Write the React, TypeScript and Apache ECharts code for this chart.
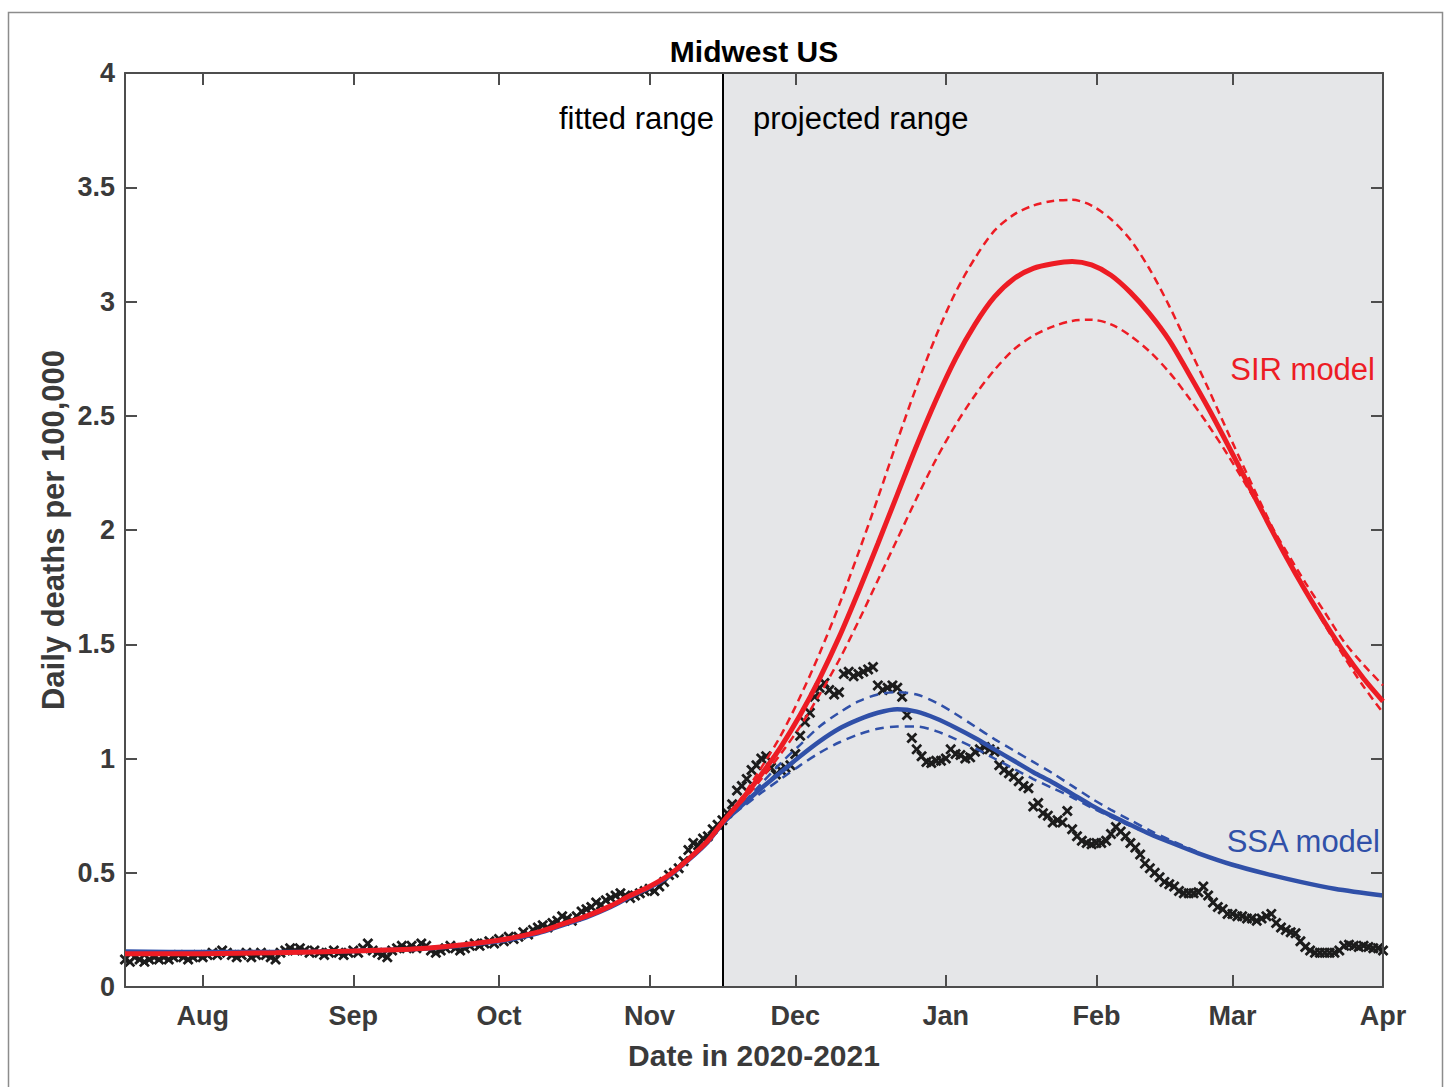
import React, { useEffect, useRef } from 'react';
import * as echarts from 'echarts';

// ---- axis ticks (day 0 = 16 Jul 2020) ----
const monthTickDays = [16, 47, 77, 108, 138, 169, 200, 228, 259];
const monthTickLabels = ['Aug', 'Sep', 'Oct', 'Nov', 'Dec', 'Jan', 'Feb', 'Mar', 'Apr'];
const firstDay = 0;
const lastDay = 259;
const fitEndDay = 123;

// ---- observed daily deaths per 100,000 (one value per day) ----
const obsJul = [0.12, 0.11, 0.13, 0.12, 0.11, 0.12, 0.13, 0.12, 0.13, 0.12, 0.13, 0.14, 0.13, 0.12, 0.13, 0.14];
const obsAug = [0.13, 0.14, 0.15, 0.14, 0.16, 0.15, 0.14, 0.13, 0.14, 0.15, 0.13, 0.14, 0.15, 0.14, 0.13, 0.12, 0.15, 0.16, 0.17, 0.16, 0.17, 0.16, 0.15, 0.16, 0.15, 0.14, 0.15, 0.16, 0.15, 0.14, 0.15];
const obsSep = [0.16, 0.15, 0.17, 0.19, 0.16, 0.15, 0.14, 0.13, 0.16, 0.17, 0.18, 0.17, 0.18, 0.17, 0.19, 0.18, 0.16, 0.15, 0.16, 0.17, 0.18, 0.17, 0.16, 0.17, 0.18, 0.19, 0.18, 0.19, 0.2, 0.19];
const obsOct = [0.21, 0.2, 0.22, 0.21, 0.22, 0.24, 0.23, 0.25, 0.26, 0.27, 0.26, 0.28, 0.29, 0.31, 0.3, 0.29, 0.31, 0.33, 0.34, 0.35, 0.37, 0.36, 0.38, 0.39, 0.4, 0.41, 0.4, 0.39, 0.4, 0.41, 0.42];
const obsNov = [0.43, 0.42, 0.44, 0.46, 0.49, 0.5, 0.52, 0.55, 0.6, 0.63, 0.62, 0.65, 0.66, 0.69, 0.71, 0.73, 0.76, 0.8, 0.86, 0.88, 0.91, 0.95, 0.97, 1.0, 1.01, 0.96, 0.93, 0.95, 0.96, 0.97];
const obsDec = [1.02, 1.1, 1.16, 1.2, 1.27, 1.31, 1.33, 1.3, 1.28, 1.29, 1.37, 1.38, 1.36, 1.37, 1.38, 1.39, 1.4, 1.32, 1.3, 1.31, 1.32, 1.31, 1.27, 1.19, 1.09, 1.04, 1.01, 0.985, 0.98, 0.99, 0.99];
const obsJan = [1.0, 1.04, 1.02, 1.015, 1.0, 1.005, 1.03, 1.04, 1.05, 1.04, 1.03, 0.97, 0.95, 0.935, 0.92, 0.9, 0.88, 0.87, 0.79, 0.805, 0.76, 0.75, 0.72, 0.73, 0.72, 0.77, 0.69, 0.66, 0.64, 0.63, 0.625];
const obsFeb = [0.63, 0.63, 0.64, 0.67, 0.7, 0.68, 0.66, 0.63, 0.61, 0.58, 0.54, 0.52, 0.5, 0.48, 0.46, 0.45, 0.44, 0.42, 0.41, 0.41, 0.41, 0.415, 0.44, 0.4, 0.37, 0.35, 0.34, 0.32];
const obsMar = [0.32, 0.31, 0.31, 0.3, 0.3, 0.29, 0.3, 0.31, 0.32, 0.28, 0.26, 0.25, 0.24, 0.235, 0.2, 0.175, 0.16, 0.15, 0.15, 0.15, 0.15, 0.15, 0.16, 0.18, 0.185, 0.18, 0.175, 0.18, 0.175, 0.17, 0.17];
const obsApr = [0.16];

// ---- fitted range (both models) ----
const fitDays = [0, 16, 31, 47, 62, 77, 85, 90, 95, 100, 104, 108, 112, 116, 120, 123];
const sirFit = [0.145, 0.146, 0.15, 0.158, 0.17, 0.205, 0.24, 0.275, 0.31, 0.355, 0.4, 0.44, 0.49, 0.56, 0.64, 0.72];
const ssaFit = [0.155, 0.153, 0.153, 0.158, 0.168, 0.2, 0.235, 0.27, 0.305, 0.35, 0.395, 0.435, 0.485, 0.555, 0.635, 0.715];

// ---- SIR projection (every 4 days from 16 Nov) ----
const sirDays = [123, 127, 131, 135, 139, 143, 147, 151, 155, 159, 163, 167, 171, 175, 179, 183, 187, 191, 195, 199, 203, 207, 211, 215, 219, 223, 227, 231, 235, 239, 243, 247, 251, 255, 259];
const sirMid = [0.72, 0.82, 0.93, 1.05, 1.19, 1.35, 1.53, 1.73, 1.94, 2.155, 2.37, 2.57, 2.75, 2.9, 3.02, 3.1, 3.145, 3.165, 3.175, 3.16, 3.115, 3.04, 2.945, 2.83, 2.685, 2.535, 2.375, 2.21, 2.045, 1.885, 1.735, 1.595, 1.465, 1.35, 1.25];
const sirHigh = [0.72, 0.83, 0.96, 1.1, 1.27, 1.46, 1.67, 1.9, 2.14, 2.39, 2.63, 2.85, 3.04, 3.19, 3.31, 3.38, 3.42, 3.44, 3.445, 3.42, 3.36, 3.27, 3.14, 2.98, 2.8, 2.62, 2.43, 2.245, 2.065, 1.895, 1.735, 1.585, 1.445, 1.315, 1.2];
const sirLow = [0.72, 0.81, 0.91, 1.02, 1.14, 1.28, 1.43, 1.6, 1.78, 1.96, 2.14, 2.31, 2.46, 2.59, 2.7, 2.79, 2.85, 2.89, 2.915, 2.92, 2.9, 2.85, 2.78, 2.69, 2.58, 2.46, 2.33, 2.19, 2.05, 1.91, 1.77, 1.64, 1.51, 1.41, 1.32];

// ---- SSA projection ----
const ssaDays = [123, 127, 131, 135, 139, 143, 147, 151, 155, 159, 163, 167, 171, 175, 179, 183, 187, 191, 195, 199, 203, 207, 211, 215, 221, 228, 235, 242, 249, 259];
const ssaMid = [0.72, 0.795, 0.87, 0.94, 1.01, 1.075, 1.13, 1.17, 1.2, 1.215, 1.205, 1.175, 1.135, 1.09, 1.04, 0.99, 0.94, 0.895, 0.845, 0.795, 0.75, 0.71, 0.67, 0.635, 0.585, 0.535, 0.495, 0.46, 0.43, 0.4];
const ssaBandDays = [123, 127, 131, 135, 139, 143, 147, 151, 155, 159, 163, 167, 171, 175, 179, 183, 187, 191, 195, 199, 203, 207, 211, 215, 221];
const ssaHigh = [0.72, 0.8, 0.89, 0.98, 1.06, 1.14, 1.2, 1.25, 1.28, 1.29, 1.28, 1.245, 1.195, 1.14, 1.085, 1.035, 0.985, 0.935, 0.88, 0.825, 0.775, 0.73, 0.685, 0.645, 0.59];
const ssaLow = [0.72, 0.785, 0.85, 0.91, 0.97, 1.025, 1.07, 1.105, 1.13, 1.14, 1.14, 1.12, 1.085, 1.045, 1.0, 0.955, 0.91, 0.87, 0.83, 0.785, 0.745, 0.705, 0.67, 0.635, 0.585];

const FONT = '"Liberation Sans", Arial, Helvetica, sans-serif';
const AXIS_COLOR = '#4d4d4d';
const LABEL_COLOR = '#3a3a3a';
const RED = '#ed1c24';
const BLUE = '#3050a8';

const pairs = (xs: number[], ys: number[]) => xs.map((x, i) => [x, ys[i]]);

export default function App() {
  const ref = useRef<HTMLDivElement>(null);

  useEffect(() => {
    if (!ref.current) return;
    const chart = echarts.init(ref.current, undefined, { renderer: 'svg' });

    const observed = [...obsJul, ...obsAug, ...obsSep, ...obsOct, ...obsNov, ...obsDec, ...obsJan, ...obsFeb, ...obsMar, ...obsApr];
    const observedPts = observed.map((v, i) => [firstDay + i, v]);
    const sirSolid = [...pairs(fitDays, sirFit), ...pairs(sirDays.slice(1), sirMid.slice(1))];
    const ssaSolid = [...pairs(fitDays, ssaFit), ...pairs(ssaDays.slice(1), ssaMid.slice(1))];

    const xMarkSymbol = 'path://M0,1.8L1.8,0L5,3.2L8.2,0L10,1.8L6.8,5L10,8.2L8.2,10L5,6.8L1.8,10L0,8.2L3.2,5Z';

    const tickLine = { color: AXIS_COLOR, width: 2 };

    chart.setOption({
      animation: false,
      backgroundColor: '#ffffff',
      grid: { left: 125, right: 65, top: 73, bottom: 100, containLabel: false, outerBoundsMode: 'none' },
      xAxis: [
        {
          type: 'value', min: firstDay, max: lastDay, position: 'bottom', z: 5,
          axisLine: { show: true, onZero: false, lineStyle: tickLine },
          axisTick: { show: true, inside: true, length: 12, customValues: monthTickDays, lineStyle: tickLine },
          axisLabel: {
            show: true, customValues: monthTickDays, margin: 15,
            formatter: (v: number) => monthTickLabels[monthTickDays.indexOf(Math.round(v))] ?? '',
            fontSize: 27, fontWeight: 'bold', color: LABEL_COLOR, fontFamily: FONT,
          },
          splitLine: { show: false },
        },
        {
          type: 'value', min: firstDay, max: lastDay, position: 'top', z: 5,
          axisLine: { show: true, onZero: false, lineStyle: tickLine },
          axisTick: { show: true, inside: true, length: 12, customValues: monthTickDays, lineStyle: tickLine },
          axisLabel: { show: false },
          splitLine: { show: false },
        },
      ],
      yAxis: [
        {
          type: 'value', min: 0, max: 4, interval: 0.5, position: 'left', z: 5,
          axisLine: { show: true, onZero: false, lineStyle: tickLine },
          axisTick: { show: true, inside: true, length: 12, lineStyle: tickLine },
          axisLabel: { show: true, margin: 10, fontSize: 27, fontWeight: 'bold', color: LABEL_COLOR, fontFamily: FONT },
          splitLine: { show: false },
        },
        {
          type: 'value', min: 0, max: 4, interval: 0.5, position: 'right', z: 5,
          axisLine: { show: true, onZero: false, lineStyle: tickLine },
          axisTick: { show: true, inside: true, length: 12, lineStyle: tickLine },
          axisLabel: { show: false },
          splitLine: { show: false },
        },
      ],
      graphic: [
        {
          type: 'rect', silent: true, z: -10,
          shape: { x: 8.5, y: 12.5, width: 1434, height: 1100 },
          style: { fill: 'none', stroke: '#8c8c8c', lineWidth: 1.5 },
        },
        {
          type: 'text', x: 754, y: 51, z: 100,
          style: { text: 'Midwest US', font: `bold 30px ${FONT}`, fill: '#000', align: 'center', verticalAlign: 'middle' },
        },
        {
          type: 'text', x: 754, y: 1055, z: 100,
          style: { text: 'Date in 2020-2021', font: `bold 30px ${FONT}`, fill: LABEL_COLOR, align: 'center', verticalAlign: 'middle' },
        },
        {
          type: 'text', x: 53, y: 530, rotation: Math.PI / 2, z: 100,
          style: { text: 'Daily deaths per 100,000', font: `bold 31px ${FONT}`, fill: LABEL_COLOR, align: 'center', verticalAlign: 'middle' },
        },
        {
          type: 'text', x: 714, y: 118, z: 100,
          style: { text: 'fitted range', font: `31px ${FONT}`, fill: '#000', align: 'right', verticalAlign: 'middle' },
        },
        {
          type: 'text', x: 753, y: 118, z: 100,
          style: { text: 'projected range', font: `31px ${FONT}`, fill: '#000', align: 'left', verticalAlign: 'middle' },
        },
        {
          type: 'text', x: 1375, y: 369, z: 100,
          style: { text: 'SIR model', font: `31px ${FONT}`, fill: RED, align: 'right', verticalAlign: 'middle' },
        },
        {
          type: 'text', x: 1380, y: 841, z: 100,
          style: { text: 'SSA model', font: `31px ${FONT}`, fill: BLUE, align: 'right', verticalAlign: 'middle' },
        },
      ],
      series: [
        {
          name: 'ranges', type: 'line', z: 1, data: [], silent: true,
          markArea: {
            silent: true,
            itemStyle: { color: '#e5e6e8' },
            data: [[{ xAxis: fitEndDay }, { xAxis: lastDay }]],
          },
          markLine: {
            silent: true, symbol: ['none', 'none'], label: { show: false },
            lineStyle: { color: '#000', width: 2, type: 'solid' },
            data: [{ xAxis: fitEndDay }],
          },
        },
        {
          name: 'observed', type: 'scatter', z: 2, data: observedPts,
          symbol: xMarkSymbol, symbolSize: 11, itemStyle: { color: '#1c1c1c', opacity: 1 },
        },
        {
          name: 'SSA upper', type: 'line', z: 3, data: pairs(ssaBandDays, ssaHigh), smooth: 0.3, symbol: 'none',
          lineStyle: { color: BLUE, width: 2.5, type: [9, 6] },
        },
        {
          name: 'SSA lower', type: 'line', z: 3, data: pairs(ssaBandDays, ssaLow), smooth: 0.3, symbol: 'none',
          lineStyle: { color: BLUE, width: 2.5, type: [9, 6] },
        },
        {
          name: 'SSA model', type: 'line', z: 4, data: ssaSolid, smooth: 0.3, symbol: 'none',
          lineStyle: { color: BLUE, width: 4.5 },
        },
        {
          name: 'SIR upper', type: 'line', z: 5, data: pairs(sirDays, sirHigh), smooth: 0.3, symbol: 'none',
          lineStyle: { color: RED, width: 2.5, type: [8, 5] },
        },
        {
          name: 'SIR lower', type: 'line', z: 5, data: pairs(sirDays, sirLow), smooth: 0.3, symbol: 'none',
          lineStyle: { color: RED, width: 2.5, type: [8, 5] },
        },
        {
          name: 'SIR model', type: 'line', z: 6, data: sirSolid, smooth: 0.3, symbol: 'none',
          lineStyle: { color: RED, width: 5 },
        },
      ],
    });

    return () => chart.dispose();
  }, []);

  return (
    <div
      ref={ref}
      style={{ position: 'fixed', left: 0, top: 0, width: '1448px', height: '1087px', background: '#fff' }}
    />
  );
}
